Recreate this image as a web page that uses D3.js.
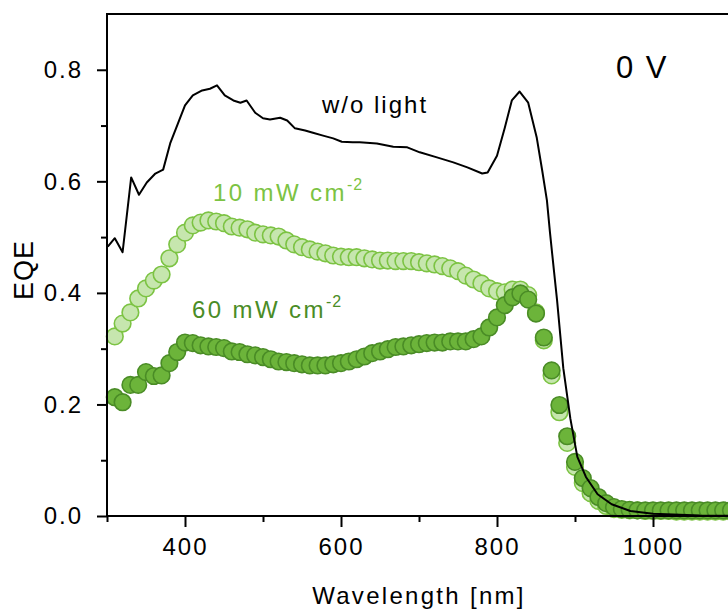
<!DOCTYPE html>
<html>
<head>
<meta charset="utf-8">
<script src="https://cdn.jsdelivr.net/npm/d3@7"></script>
<style>
  body { margin: 0; background: #fff; }
  text { font-family: 'Liberation Sans', Arial, sans-serif; }
</style>
</head>
<body>
<svg></svg>
<script>
// wavelengths of the black line (nm) and its EQE
let darkLineNm = [301, 310, 320, 331, 341, 351, 362, 372, 381, 391, 400, 410, 422, 432, 441, 451, 462, 471, 479, 490,
  500, 509, 522, 531, 541, 554, 564, 577, 590, 601, 615, 624, 646, 667, 685, 701, 723, 744, 762, 781,
  788, 800, 810, 819, 829, 840, 851, 858, 864, 868, 873, 877, 885, 894, 903, 914, 929, 947, 971, 1000, 1060, 1100]
let darkLineEqe = [0.483, 0.498, 0.473, 0.607, 0.576, 0.598, 0.614, 0.621, 0.668, 0.704, 0.736, 0.754, 0.763, 0.766, 0.772, 0.754, 0.745, 0.741, 0.745, 0.723,
  0.713, 0.711, 0.714, 0.709, 0.695, 0.691, 0.687, 0.682, 0.677, 0.671, 0.670, 0.670, 0.668, 0.662, 0.661, 0.652, 0.643, 0.634, 0.625, 0.614,
  0.616, 0.646, 0.696, 0.745, 0.761, 0.741, 0.678, 0.619, 0.566, 0.507, 0.440, 0.387, 0.265, 0.175, 0.106, 0.070, 0.039, 0.021, 0.009, 0.004, 0.001, 0.0005]

// wavelengths of the circle series (nm)
let pointNm = [310, 320, 330, 340, 350, 360, 370, 380, 390, 400, 410, 420, 430, 440, 450, 460, 470, 480, 490, 500,
  510, 520, 530, 540, 550, 560, 570, 580, 590, 600, 610, 620, 630, 640, 650, 660, 670, 680, 690, 700,
  710, 720, 730, 740, 750, 760, 770, 780, 790, 800, 810, 820, 830, 840, 850, 860, 870, 880, 890, 900,
  910, 920, 930, 940, 950, 960, 970, 980, 990, 1000, 1010, 1020, 1030, 1040, 1050, 1060, 1070, 1080, 1090, 1100]

// 10 mW cm-2
let eqe10 = [0.322, 0.345, 0.365, 0.390, 0.408, 0.422, 0.433, 0.462, 0.487, 0.508, 0.521, 0.526, 0.530, 0.528, 0.525, 0.519, 0.517, 0.514, 0.508, 0.505,
  0.503, 0.501, 0.494, 0.487, 0.482, 0.478, 0.474, 0.471, 0.467, 0.465, 0.464, 0.464, 0.462, 0.460, 0.458, 0.458, 0.457, 0.457, 0.457, 0.455,
  0.453, 0.451, 0.448, 0.444, 0.439, 0.431, 0.424, 0.417, 0.408, 0.403, 0.401, 0.406, 0.406, 0.396, 0.365, 0.315, 0.252, 0.186, 0.131, 0.088,
  0.059, 0.041, 0.027, 0.018, 0.0125, 0.011, 0.010, 0.010, 0.009, 0.009, 0.009, 0.009, 0.008, 0.008, 0.008, 0.008, 0.008, 0.008, 0.008, 0.008]

// 60 mW cm-2
let eqe60 = [0.213, 0.204, 0.235, 0.235, 0.258, 0.251, 0.252, 0.274, 0.294, 0.311, 0.310, 0.306, 0.304, 0.303, 0.301, 0.295, 0.294, 0.290, 0.288, 0.285,
  0.281, 0.277, 0.276, 0.274, 0.272, 0.270, 0.270, 0.270, 0.272, 0.274, 0.277, 0.281, 0.286, 0.292, 0.295, 0.299, 0.303, 0.304, 0.306, 0.308,
  0.310, 0.311, 0.311, 0.313, 0.313, 0.313, 0.317, 0.322, 0.338, 0.356, 0.378, 0.392, 0.399, 0.388, 0.363, 0.320, 0.261, 0.199, 0.143, 0.097,
  0.068, 0.050, 0.034, 0.023, 0.016, 0.0125, 0.011, 0.010, 0.010, 0.010, 0.010, 0.010, 0.010, 0.010, 0.010, 0.010, 0.010, 0.010, 0.010, 0.010]

let xTicks = [400, 600, 800, 1000]
let xMinorTicks = [300, 500, 700, 900, 1100]
let yTicks = [0, 0.2, 0.4, 0.6, 0.8]
let yMinorTicks = [0.1, 0.3, 0.5, 0.7]

let w = 728
let h = 613
let plotLeft = 107
let plotTop = 14
let plotBottom = 516
let plotRight = 731

let svg = d3.select('svg').attr('width', w).attr('height', h)

let xScale = d3.scaleLinear().domain([300, 1100]).range([plotLeft, plotRight])
let yScale = d3.scaleLinear().domain([0, 0.9]).range([plotBottom, plotTop])

let lightFill = '#c6e6ae'
let lightStroke = '#7cc343'
let darkFill = '#6cb43a'
let darkStroke = '#4a8c26'

let drawPoints = (values, fill, stroke) => {
  svg.append('g')
    .selectAll('circle')
    .data(pointNm.map((nm, i) => [nm, values[i]]))
    .enter()
    .append('circle')
    .attr('cx', d => xScale(d[0]))
    .attr('cy', d => yScale(d[1]))
    .attr('r', 8.3)
    .attr('fill', fill)
    .attr('stroke', stroke)
    .attr('stroke-width', 1.6)
}

drawPoints(eqe10, lightFill, lightStroke)
drawPoints(eqe60, darkFill, darkStroke)

// black line goes on top of the circles
let line = d3.line().x(d => xScale(d[0])).y(d => yScale(d[1]))
svg.append('path')
  .datum(darkLineNm.map((nm, i) => [nm, darkLineEqe[i]]))
  .attr('d', line)
  .attr('fill', 'none')
  .attr('stroke', '#000')
  .attr('stroke-width', 2)
  .attr('stroke-linejoin', 'round')

// axes
let styleAxis = (g) => {
  g.select('.domain').remove()
  g.selectAll('line').attr('stroke', '#000').attr('stroke-width', 2)
  g.selectAll('text').attr('fill', '#000').style('font-size', '24px').style('letter-spacing', '2px')
}

svg.append('g')
  .attr('transform', 'translate(0,' + plotBottom + ')')
  .call(d3.axisBottom(xScale).tickValues(xMinorTicks).tickSize(6).tickFormat(''))
  .call(styleAxis)

svg.append('g')
  .attr('transform', 'translate(0,' + plotBottom + ')')
  .call(d3.axisBottom(xScale).tickValues(xTicks).tickSize(11).tickPadding(11).tickFormat(d3.format('d')))
  .call(styleAxis)

svg.append('g')
  .attr('transform', 'translate(' + plotLeft + ',0)')
  .call(d3.axisLeft(yScale).tickValues(yMinorTicks).tickSize(6).tickFormat(''))
  .call(styleAxis)

svg.append('g')
  .attr('transform', 'translate(' + plotLeft + ',0)')
  .call(d3.axisLeft(yScale).tickValues(yTicks).tickSize(10).tickPadding(14).tickFormat(d3.format('.1f')))
  .call(styleAxis)

// frame lines
svg.append('line').attr('x1', plotLeft).attr('x2', w).attr('y1', plotTop).attr('y2', plotTop)
  .attr('stroke', '#000').attr('stroke-width', 2)
svg.append('line').attr('x1', plotLeft).attr('x2', plotLeft).attr('y1', plotTop - 1).attr('y2', plotBottom + 1)
  .attr('stroke', '#000').attr('stroke-width', 2)
svg.append('line').attr('x1', plotLeft - 1).attr('x2', w).attr('y1', plotBottom).attr('y2', plotBottom)
  .attr('stroke', '#000').attr('stroke-width', 2)

// axis titles
svg.append('text')
  .attr('x', (plotLeft + plotRight) / 2)
  .attr('y', 604)
  .attr('text-anchor', 'middle')
  .style('font-size', '24px')
  .style('letter-spacing', '2.3px')
  .text('Wavelength [nm]')

svg.append('text')
  .attr('transform', 'translate(33,' + ((plotTop + plotBottom) / 2 + 5) + ') rotate(-90)')
  .attr('text-anchor', 'middle')
  .style('font-size', '27px')
  .style('letter-spacing', '1px')
  .text('EQE')

// labels
svg.append('text').attr('x', 616).attr('y', 78)
  .style('font-size', '31px').style('letter-spacing', '2px').text('0 V')

svg.append('text').attr('x', 322).attr('y', 113)
  .style('font-size', '24px').style('letter-spacing', '2px').text('w/o light')

let addPowerLabel = (x, y, text, color) => {
  let t = svg.append('text').attr('x', x).attr('y', y)
    .attr('fill', color).style('font-size', '24px').style('letter-spacing', '2.4px')
  t.append('tspan').text(text)
  t.append('tspan').attr('dy', -11).style('font-size', '16px').style('letter-spacing', '1px').text('-2')
}

addPowerLabel(213, 201, '10 mW cm', '#7cc343')
addPowerLabel(192, 318, '60 mW cm', '#4a8c26')
</script>
</body>
</html>
